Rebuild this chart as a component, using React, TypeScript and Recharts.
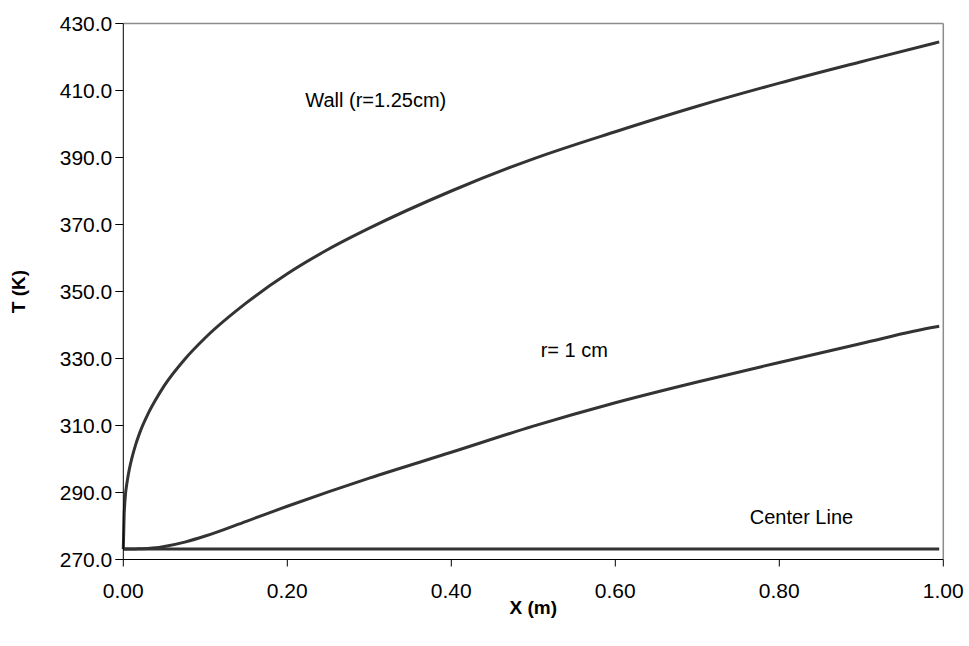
import React from 'react'
import {
  LineChart,
  Line,
  XAxis,
  YAxis,
  ReferenceLine,
  ReferenceDot,
} from 'recharts'

// distance along the pipe (m)
const xValues = [0, 0.001, 0.002, 0.005, 0.0075, 0.01, 0.015, 0.02, 0.03, 0.04, 0.05, 0.075, 0.1, 0.15, 0.2, 0.25, 0.3, 0.4, 0.5, 0.6, 0.7, 0.8, 0.9, 0.99, 0.995]

// temperatures (K)
const wallT = [273.15, 283, 287.5, 293.7, 297.1, 299.8, 304.2, 307.8, 313.4, 317.9, 321.9, 329.8, 336.2, 346.6, 355.3, 362.6, 368.9, 380, 389.6, 397.7, 405.3, 412.2, 418.6, 424.2, 424.5]
const r1T = [273.15, 273.15, 273.15, 273.15, 273.15, 273.15, 273.15, 273.2, 273.3, 273.5, 273.9, 275.2, 277.0, 281.4, 285.9, 290.2, 294.3, 302, 309.8, 316.8, 323, 328.8, 334.5, 339.4, 339.6]
const centerT = [273.15, 273.15, 273.15, 273.15, 273.15, 273.15, 273.15, 273.15, 273.15, 273.15, 273.15, 273.15, 273.15, 273.15, 273.15, 273.15, 273.15, 273.15, 273.15, 273.15, 273.15, 273.15, 273.15, 273.15, 273.15]

const xTicks = [0, 0.2, 0.4, 0.6, 0.8, 1.0]
const yTicks = [270, 290, 310, 330, 350, 370, 390, 410, 430]

const annotations = [
  { text: 'Wall (r=1.25cm)', x: 0.222, y: 407.2 },
  { text: 'r= 1 cm', x: 0.509, y: 332.5 },
  { text: 'Center Line', x: 0.764, y: 282.7 },
]

const data = xValues.map((x, i) => ({
  x,
  wall: wallT[i],
  r1: r1T[i],
  center: centerT[i],
}))

const FONT = 'Arial, "Liberation Sans", sans-serif'
const LINE = '#333333'

const NoteLabel = ({ viewBox, text }: any) => (
  <text
    x={viewBox.x}
    y={viewBox.y}
    fontFamily={FONT}
    fontSize={20}
    fill="#000"
    dominantBaseline="central"
  >
    {text}
  </text>
)

const YTitle = ({ viewBox }: any) => {
  const cx = viewBox.x + 18
  const cy = viewBox.y + viewBox.height / 2
  return (
    <text
      x={cx}
      y={cy}
      transform={`rotate(-90 ${cx} ${cy})`}
      textAnchor="middle"
      dominantBaseline="central"
      fontFamily={FONT}
      fontSize={19}
      fontWeight="bold"
      fill="#000"
    >
      T (K)
    </text>
  )
}

export default function App() {
  return (
    <div style={{ position: 'absolute', left: 0, top: 0, background: '#fff' }}>
      <LineChart
        width={969}
        height={646}
        data={data}
        margin={{ top: 23.5, right: 25.7, left: 0, bottom: 0 }}
      >
        <XAxis
          dataKey="x"
          type="number"
          domain={[0, 1]}
          ticks={xTicks}
          tickFormatter={(v: number) => v.toFixed(2)}
          tick={{ fill: '#000', fontSize: 21, fontFamily: FONT }}
          stroke="#000"
          tickSize={7}
          tickMargin={17}
          height={86.5}
          label={{
            value: 'X (m)',
            position: 'insideBottom',
            offset: 32,
            fill: '#000',
            fontSize: 19,
            fontWeight: 'bold',
            fontFamily: FONT,
          }}
        />
        <YAxis
          type="number"
          domain={[270, 430]}
          ticks={yTicks}
          tickFormatter={(v: number) => v.toFixed(1)}
          tick={{ fill: '#000', fontSize: 21, fontFamily: FONT }}
          stroke="#000"
          tickSize={8}
          tickMargin={3}
          width={123.3}
          label={<YTitle />}
        />
        <ReferenceLine y={430} stroke="#8c8c8c" strokeWidth={1.5} />
        <ReferenceLine x={1} stroke="#8c8c8c" strokeWidth={1.5} />

        <Line
          type="monotone"
          dataKey="wall"
          stroke={LINE}
          strokeWidth={3}
          dot={false}
          isAnimationActive={false}
        />
        <Line
          type="monotone"
          dataKey="r1"
          stroke={LINE}
          strokeWidth={3}
          dot={false}
          isAnimationActive={false}
        />
        <Line
          type="monotone"
          dataKey="center"
          stroke={LINE}
          strokeWidth={3}
          dot={false}
          isAnimationActive={false}
        />

        {annotations.map((a) => (
          <ReferenceDot
            key={a.text}
            x={a.x}
            y={a.y}
            r={0}
            fill="none"
            stroke="none"
            label={<NoteLabel text={a.text} />}
          />
        ))}
      </LineChart>
    </div>
  )
}
